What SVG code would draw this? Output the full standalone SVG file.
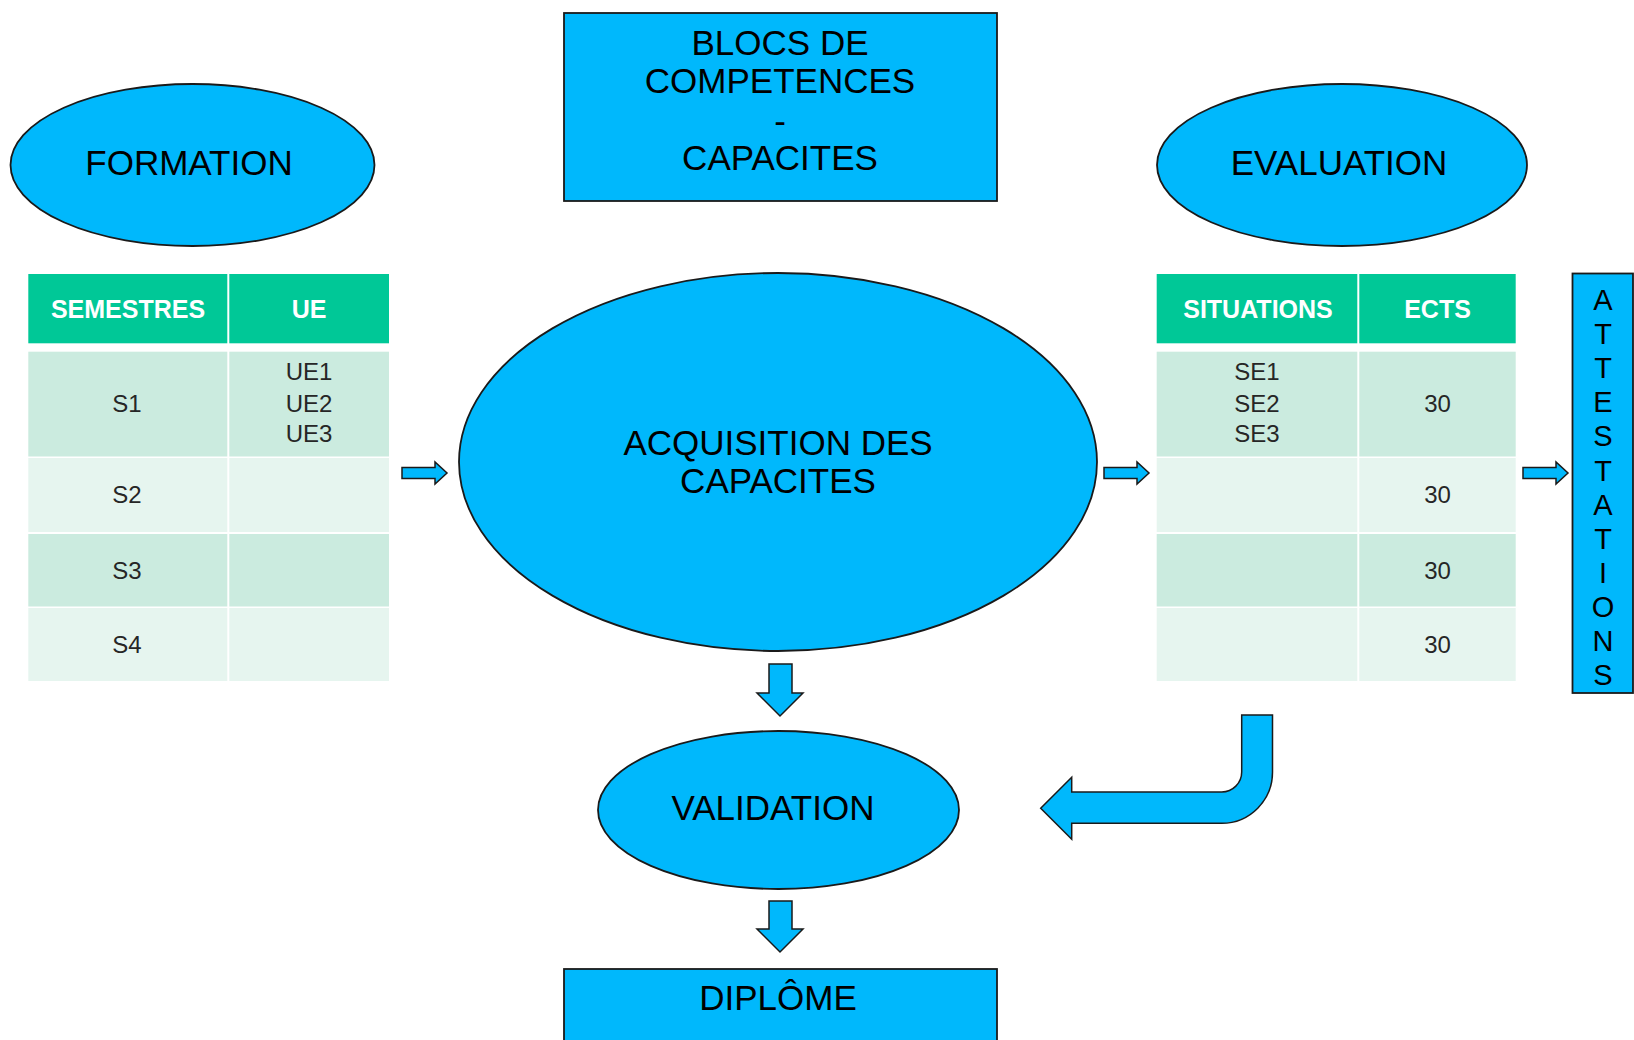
<svg xmlns="http://www.w3.org/2000/svg" width="1634" height="1040" viewBox="0 0 1634 1040">
<style>
.blue{fill:#00B8FC;stroke:#1a1a1a;stroke-width:1.8}
.arr{fill:#00B8FC;stroke:#1a1a1a;stroke-width:1.5;stroke-linejoin:miter}
.t{font-family:"Liberation Sans",Arial,sans-serif;font-size:35px;fill:#000;text-anchor:middle}
.th{font-family:"Liberation Sans",Arial,sans-serif;font-size:25px;font-weight:bold;fill:#fff;text-anchor:middle}
.td{font-family:"Liberation Sans",Arial,sans-serif;font-size:24px;fill:#262626;text-anchor:middle}
.v{font-family:"Liberation Sans",Arial,sans-serif;font-size:29px;fill:#000;text-anchor:middle}
.hd{fill:#00C897}
.r1{fill:#CBEBDF}
.r2{fill:#E6F5EF}
</style>
<rect width="1634" height="1040" fill="#fff"/>

<g id="formation">
<ellipse class="blue" cx="192.5" cy="165" rx="182" ry="81"/>
<text class="t" x="189" y="175" font-size="34">FORMATION</text>
</g>

<g id="blocs">
<rect class="blue" x="564" y="13" width="433" height="188"/>
<text class="t" x="780" y="55">BLOCS DE</text>
<text class="t" x="780" y="93">COMPETENCES</text>
<text class="t" x="780" y="133">-</text>
<text class="t" x="780" y="170">CAPACITES</text>
</g>

<g id="evaluation">
<ellipse class="blue" cx="1342" cy="165" rx="185" ry="81"/>
<text class="t" x="1339" y="175">EVALUATION</text>
</g>

<g id="table-formation">
<rect class="hd" x="28.3" y="274" width="199" height="69.3"/>
<rect class="hd" x="229.3" y="274" width="159.7" height="69.3"/>
<rect class="r1" x="28.3" y="351.7" width="199" height="104.8"/>
<rect class="r1" x="229.3" y="351.7" width="159.7" height="104.8"/>
<rect class="r2" x="28.3" y="458" width="199" height="74"/>
<rect class="r2" x="229.3" y="458" width="159.7" height="74"/>
<rect class="r1" x="28.3" y="534" width="199" height="72.5"/>
<rect class="r1" x="229.3" y="534" width="159.7" height="72.5"/>
<rect class="r2" x="28.3" y="608" width="199" height="73"/>
<rect class="r2" x="229.3" y="608" width="159.7" height="73"/>
<text class="th" x="128" y="318.3">SEMESTRES</text>
<text class="th" x="309" y="318.3">UE</text>
<text class="td" x="127" y="412">S1</text>
<text class="td" x="309" y="380">UE1</text>
<text class="td" x="309" y="412">UE2</text>
<text class="td" x="309" y="442">UE3</text>
<text class="td" x="127" y="503">S2</text>
<text class="td" x="127" y="578.5">S3</text>
<text class="td" x="127" y="653">S4</text>
</g>

<g id="acquisition">
<ellipse class="blue" cx="778" cy="462" rx="319" ry="189"/>
<text class="t" x="778" y="455">ACQUISITION DES</text>
<text class="t" x="778" y="493">CAPACITES</text>
</g>

<g id="table-evaluation">
<rect class="hd" x="1156.7" y="274" width="200.6" height="69.3"/>
<rect class="hd" x="1359.3" y="274" width="156.4" height="69.3"/>
<rect class="r1" x="1156.7" y="351.7" width="200.6" height="104.8"/>
<rect class="r1" x="1359.3" y="351.7" width="156.4" height="104.8"/>
<rect class="r2" x="1156.7" y="458" width="200.6" height="74"/>
<rect class="r2" x="1359.3" y="458" width="156.4" height="74"/>
<rect class="r1" x="1156.7" y="534" width="200.6" height="72.5"/>
<rect class="r1" x="1359.3" y="534" width="156.4" height="72.5"/>
<rect class="r2" x="1156.7" y="608" width="200.6" height="73"/>
<rect class="r2" x="1359.3" y="608" width="156.4" height="73"/>
<text class="th" x="1258" y="318.3">SITUATIONS</text>
<text class="th" x="1437.5" y="318.3">ECTS</text>
<text class="td" x="1257" y="380">SE1</text>
<text class="td" x="1257" y="412">SE2</text>
<text class="td" x="1257" y="442">SE3</text>
<text class="td" x="1437.5" y="412">30</text>
<text class="td" x="1437.5" y="503">30</text>
<text class="td" x="1437.5" y="578.5">30</text>
<text class="td" x="1437.5" y="653">30</text>
</g>

<g id="attestations">
<rect class="blue" x="1572.5" y="273.5" width="60.5" height="419.5"/>
<text class="v" x="1603" y="310">A</text>
<text class="v" x="1603" y="344.1">T</text>
<text class="v" x="1603" y="378.2">T</text>
<text class="v" x="1603" y="412.3">E</text>
<text class="v" x="1603" y="446.4">S</text>
<text class="v" x="1603" y="480.5">T</text>
<text class="v" x="1603" y="514.6">A</text>
<text class="v" x="1603" y="548.7">T</text>
<text class="v" x="1603" y="582.8">I</text>
<text class="v" x="1603" y="616.9">O</text>
<text class="v" x="1603" y="651">N</text>
<text class="v" x="1603" y="685.1">S</text>
</g>

<g id="validation">
<ellipse class="blue" cx="778.5" cy="810" rx="180.5" ry="79"/>
<text class="t" x="773" y="820">VALIDATION</text>
</g>

<g id="diplome">
<rect class="blue" x="564" y="969" width="433" height="90"/>
<text class="t" x="778" y="1010">DIPLÔME</text>
</g>

<g id="connectors">
<path class="arr" d="M402 467.5H435V462L447 473L435 484V478.5H402Z"/>
<path class="arr" d="M1104 467.5H1137V462L1149 473L1137 484V478.5H1104Z"/>
<path class="arr" d="M1523 467.5H1556V462L1568 473L1556 484V478.5H1523Z"/>
<path class="arr" d="M769 664H792V693H803L780 716L757 693H769Z"/>
<path class="arr" d="M769 901H792V929H803L780 952L757 929H769Z"/>
<path class="arr" d="M1241.7 715H1272.5V772A51 51 0 0 1 1221.7 823.3H1071.7V839.3L1040.7 808.3L1071.7 777.3V792H1221.7A20 20 0 0 0 1241.7 772Z"/>
</g>
</svg>
